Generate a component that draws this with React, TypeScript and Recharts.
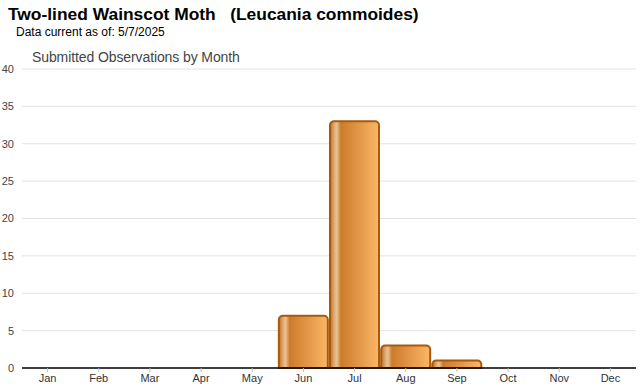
import React from "react";
import {
  BarChart,
  Bar,
  XAxis,
  YAxis,
  CartesianGrid,
} from "recharts";

const months = ["Jan", "Feb", "Mar", "Apr", "May", "Jun", "Jul", "Aug", "Sep", "Oct", "Nov", "Dec"];
const observations = [0, 0, 0, 0, 0, 7, 33, 3, 1, 0, 0, 0];
const yTicks = [0, 5, 10, 15, 20, 25, 30, 35, 40];

const data = months.map((m, i) => ({ month: m, count: observations[i] }));

const font = "'Liberation Sans', Arial, sans-serif";

export default function App() {
  return (
    <div
      style={{
        position: "absolute",
        left: 0,
        top: 0,
        width: 640,
        height: 390,
        background: "#fff",
        fontFamily: font,
      }}
    >
      <div
        style={{
          position: "absolute",
          left: 8,
          top: 4,
          fontSize: 17.4,
          fontWeight: "bold",
          color: "#000",
          whiteSpace: "pre",
        }}
      >
        {"Two-lined Wainscot Moth   (Leucania commoides)"}
      </div>
      <div
        style={{
          position: "absolute",
          left: 16,
          top: 25,
          fontSize: 12,
          color: "#000",
        }}
      >
        Data current as of: 5/7/2025
      </div>
      <div
        style={{
          position: "absolute",
          left: 32,
          top: 49,
          fontSize: 14,
          color: "#444",
          letterSpacing: -0.1,
          zIndex: 1,
        }}
      >
        Submitted Observations by Month
      </div>
      <BarChart
        width={640}
        height={390}
        data={data}
        margin={{ top: 69, right: 4, bottom: 2, left: 0 }}
        barCategoryGap={1}
      >
        <defs>
          <linearGradient id="barFill" x1="0" y1="0" x2="1" y2="0">
            <stop offset="0%" stopColor="#c27020" />
            <stop offset="9%" stopColor="#dfae7c" />
            <stop offset="14%" stopColor="#e8c292" />
            <stop offset="22%" stopColor="#cc7b2b" />
            <stop offset="100%" stopColor="#fbb667" />
          </linearGradient>
        </defs>
        <CartesianGrid vertical={false} stroke="#e3e3e3" />
        <XAxis
          dataKey="month"
          height={20}
          axisLine={{ stroke: "#000", strokeWidth: 1.5 }}
          tickLine={{ stroke: "#bbb" }}
          tickSize={4}
          tick={{ fill: "#333", fontSize: 11, fontFamily: font }}
        />
        <YAxis
          width={22}
          domain={[0, 40]}
          ticks={yTicks}
          axisLine={false}
          tickLine={false}
          tick={{ fill: "#444", fontSize: 11, fontFamily: font }}
        />
        <Bar
          dataKey="count"
          fill="url(#barFill)"
          stroke="#a85a08"
          strokeWidth={2}
          radius={[4, 4, 0, 0]}
          isAnimationActive={false}
        />
      </BarChart>
    </div>
  );
}
